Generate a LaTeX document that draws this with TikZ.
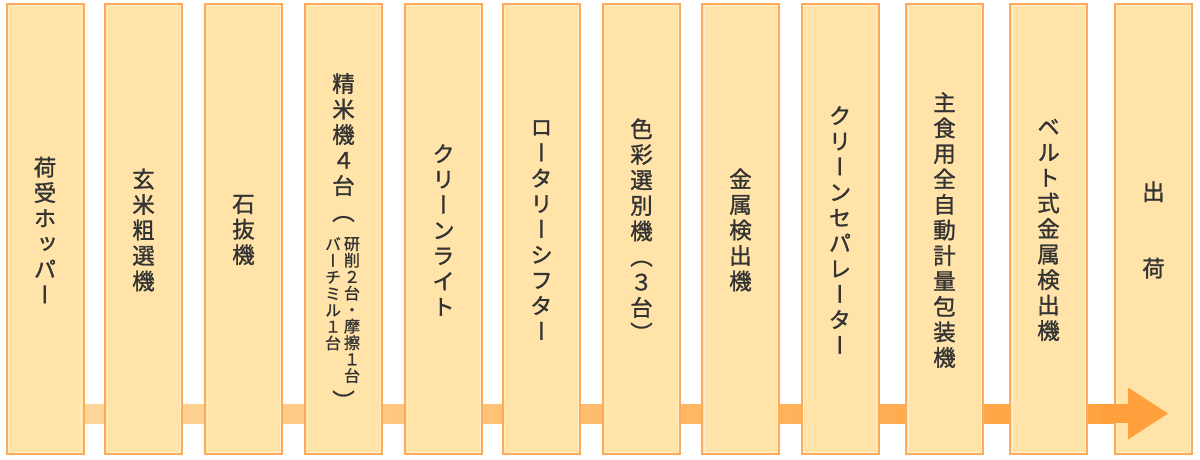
\documentclass[tikz,border=0pt]{standalone}
\usepackage{fontspec}
\newfontfamily\tatefont[RawFeature=+vert, BoldFont={Noto Sans CJK JP}, BoldFeatures={FakeBold=1.2}]{Noto Sans CJK JP}
\usetikzlibrary{positioning}
\definecolor{boxfill}{HTML}{FFE3A8}
\definecolor{boxline}{HTML}{FFAA5A}
\definecolor{boxinner}{HTML}{FFF1CC}
\definecolor{flowlight}{HTML}{FFD99E}
\definecolor{flowdark}{HTML}{FFA03C}
\definecolor{ink}{HTML}{333333}
\def\tate#1{\vtop{\tatei#1\relax}}
\def\tatei#1{\ifx\relax#1\else\hbox to 1em{\hss#1\hss}\expandafter\tatei\fi}
\tikzset{
  station/.style={draw=boxline, line width=2pt, fill=boxfill, minimum width=77pt, minimum height=450pt, inner sep=0pt},
  tatetext/.style={text=ink, inner sep=0pt, font=\tatefont\bfseries\fontsize{22.5}{25.5}\selectfont},
  tatesmall/.style={tatetext, font=\tatefont\bfseries\fontsize{16}{16.5}\selectfont}
}
\begin{document}
\begin{tikzpicture}[x=1pt,y=-1pt]
\useasboundingbox (0,0) rectangle (1200,460);
\coordinate (flowstart) at (45,404);
\coordinate (flowend) at (1130,423);
\shade[left color=flowlight, right color=flowdark] (flowstart) rectangle (flowend);
\foreach \x/\lbl [count=\n] in {45/荷受ホッパー, 143.5/玄米粗選機, 243.5/石抜機, 343.5/{}, 443.5/クリーンライト, 541.5/ロータリーシフター, 641.5/色彩選別機（３台）, 740.5/金属検出機, 840/クリーンセパレーター, 944.5/主食用全自動計量包装機, 1048.5/ベルト式金属検出機, 1153.5/出　　荷} {
  \node[station] (p\n) at (\x,229) {};
  \draw[boxinner, line width=1pt] ([xshift=3pt,yshift=-3pt]p\n.north west) rectangle ([xshift=-3pt,yshift=3pt]p\n.south east);
  \node[tatetext] (t\n) at (\x,230) {\expandafter\tate\expandafter{\lbl}};
}
\node[tatetext, anchor=north] (t4a) at (343.5,73) {\tate{精米機４台}};
\node[tatetext] (t4b) at (343.5,219) {（};
\node[tatesmall, anchor=north] (t4c) at (352,237) {\tate{研削２台・摩擦１台}};
\node[tatesmall, anchor=north] (t4d) at (333,237) {\tate{バーチミル１台}};
\node[tatetext] (t4e) at (343.5,400) {）};
\coordinate (headbase) at (1128,413.5);
\coordinate (headtip) at (1168,413.5);
\fill[flowdark] (1100,404) rectangle (headbase |- flowend);
\fill[flowdark] ([yshift=26pt]headbase) -- (headtip) -- ([yshift=-26pt]headbase) -- cycle;
\end{tikzpicture}
\end{document}
